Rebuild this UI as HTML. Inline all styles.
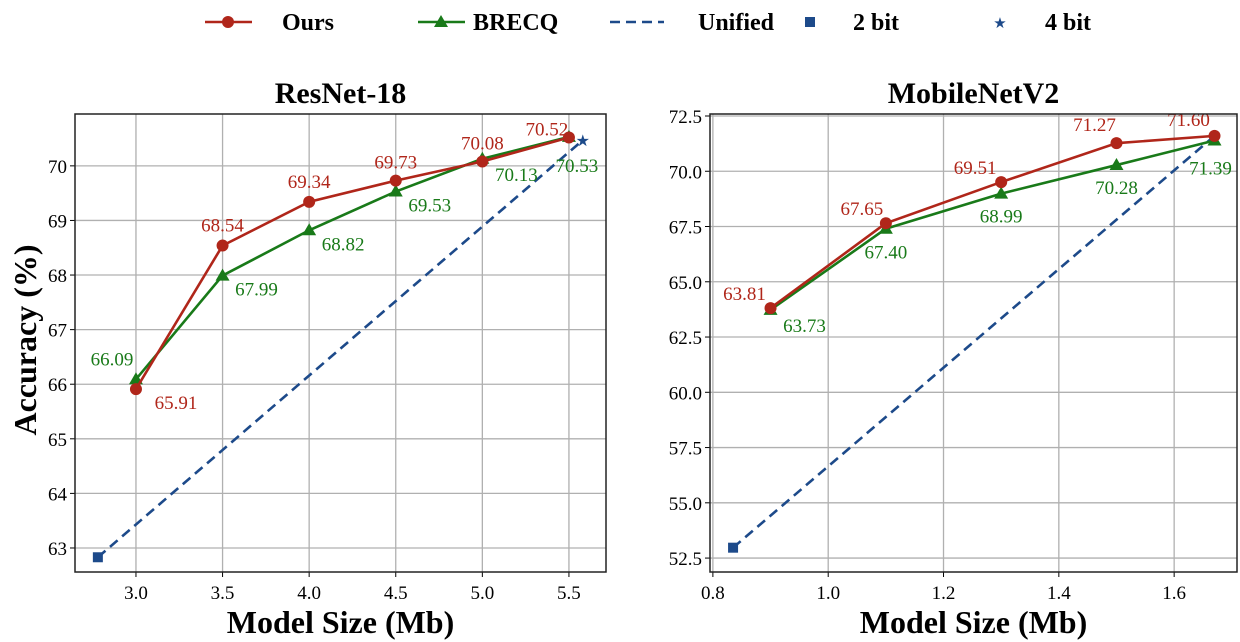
<!DOCTYPE html>
<html><head><meta charset="utf-8"><style>
body{margin:0;background:#fff;}
svg{display:block;font-family:"Liberation Serif",serif;}
</style></head><body>
<svg id="chart" width="1240" height="642" viewBox="0 0 1240 642"></svg>
<script>
const resnetSizes=[3.0,3.5,4.0,4.5,5.0,5.5];
const resnetOurs=[65.91,68.54,69.34,69.73,70.08,70.52];
const resnetBrecq=[66.09,67.99,68.82,69.53,70.13,70.53];
const resnetUnifiedX=[2.78,5.58];
const resnetUnifiedY=[62.83,70.47];
const resnetXTicks=[3.0,3.5,4.0,4.5,5.0,5.5];
const resnetYTicks=[63,64,65,66,67,68,69,70];
const mobileSizes=[0.9,1.1,1.3,1.5,1.67];
const mobileOurs=[63.81,67.65,69.51,71.27,71.60];
const mobileBrecq=[63.73,67.40,68.99,70.28,71.39];
const mobileUnifiedX=[0.835,1.67];
const mobileUnifiedY=[52.97,71.6];
const mobileXTicks=[0.8,1.0,1.2,1.4,1.6];
const mobileYTicks=[52.5,55.0,57.5,60.0,62.5,65.0,67.5,70.0,72.5];

const RED="#b0261a",GREEN="#197a19",BLUE="#1d4a8a";
const svg=document.getElementById('chart');
const NS="http://www.w3.org/2000/svg";
function mk(tag,attrs,parent,txt){const e=document.createElementNS(NS,tag);for(const k in attrs)e.setAttribute(k,attrs[k]);if(txt!==undefined)e.textContent=txt;(parent||svg).appendChild(e);return e;}

function panel(cfg){
  const g=mk('g',{});
  
  
  const {x0,x1,y0,y1,xmin,xmax,ymin,ymax}=cfg;
  const sx=v=>x0+(v-xmin)/(xmax-xmin)*(x1-x0);
  const sy=v=>y1-(v-ymin)/(ymax-ymin)*(y1-y0);
  cfg.xTicks.forEach(t=>{
    const l=mk('line',{x1:sx(t),x2:sx(t),y1:y0,y2:y1,stroke:'#b0b0b0','stroke-width':1.3},g);
    
    mk('line',{x1:sx(t),x2:sx(t),y1:y1,y2:y1+5,stroke:'#000','stroke-width':1},g);
    const tx=mk('text',{x:sx(t),y:y1+27,'text-anchor':'middle','font-size':19},g,t.toFixed(1));
    
  });
  cfg.yTicks.forEach(t=>{
    const l=mk('line',{x1:x0,x2:x1,y1:sy(t),y2:sy(t),stroke:'#b0b0b0','stroke-width':1.3},g);
    
    mk('line',{x1:x0-5,x2:x0,y1:sy(t),y2:sy(t),stroke:'#000','stroke-width':1},g);
    const tx=mk('text',{x:x0-8,y:sy(t)+7,'text-anchor':'end','font-size':19},g,cfg.yDec?t.toFixed(1):String(t));
    
  });
  const u=mk('line',{x1:sx(cfg.ux[0]),y1:sy(cfg.uy[0]),x2:sx(cfg.ux[1]),y2:sy(cfg.uy[1]),stroke:BLUE,'stroke-width':2.6,'stroke-dasharray':'10,6'},g);
  
  const sq=mk('rect',{x:sx(cfg.ux[0])-5,y:sy(cfg.uy[0])-5,width:10,height:10,fill:BLUE},g);
  
  const st=mk('text',{x:sx(cfg.ux[1]),y:sy(cfg.uy[1])+6,'text-anchor':'middle','font-size':16,fill:BLUE,'font-family':'DejaVu Sans'},g,'★');
  
  const bp=mk('polyline',{points:cfg.xs.map((x,i)=>sx(x)+','+sy(cfg.brecq[i])).join(' '),fill:'none',stroke:GREEN,'stroke-width':2.6},g);
  
  cfg.xs.forEach((x,i)=>{
    const X=sx(x),Y=sy(cfg.brecq[i]);
    const m=mk('polygon',{points:`${X},${Y-7} ${X-7},${Y+5} ${X+7},${Y+5}`,fill:GREEN},g);
    
  });
  const op=mk('polyline',{points:cfg.xs.map((x,i)=>sx(x)+','+sy(cfg.ours[i])).join(' '),fill:'none',stroke:RED,'stroke-width':2.6},g);
  
  cfg.xs.forEach((x,i)=>{
    const m=mk('circle',{cx:sx(x),cy:sy(cfg.ours[i]),r:6,fill:RED},g);
    
  });
  cfg.xs.forEach((x,i)=>{
    const a=cfg.oOff[i],b=cfg.bOff[i];
    const t1=mk('text',{x:sx(x)+a[0],y:sy(cfg.ours[i])+a[1],'text-anchor':'middle','font-size':19,fill:RED},g,cfg.ours[i].toFixed(2));
    
    const t2=mk('text',{x:sx(x)+b[0],y:sy(cfg.brecq[i])+b[1],'text-anchor':'middle','font-size':19,fill:GREEN},g,cfg.brecq[i].toFixed(2));
    
  });
  const f=mk('rect',{x:x0,y:y0,width:x1-x0,height:y1-y0,fill:'none',stroke:'#222','stroke-width':1.5},g);
  
  const ti=mk('text',{x:(x0+x1)/2,y:y0-11,'text-anchor':'middle','font-size':30,'font-weight':'bold'},g,cfg.title);
  
  const xl=mk('text',{x:(x0+x1)/2,y:633,'text-anchor':'middle','font-size':32,'font-weight':'bold'},g,'Model Size (Mb)');
  
}

panel({name:'resnet18-panel',title:'ResNet-18',x0:75,x1:606,y0:114,y1:572,xmin:2.648,xmax:5.714,ymin:62.56,ymax:70.95,
  xs:resnetSizes,ours:resnetOurs,brecq:resnetBrecq,ux:resnetUnifiedX,uy:resnetUnifiedY,xTicks:resnetXTicks,yTicks:resnetYTicks,yDec:false,
  oOff:[[40,20],[0,-14],[0,-14],[0,-12],[0,-12],[-22,-2]],bOff:[[-24,-14],[34,20],[34,20],[34,20],[34,22],[8,35]]});
panel({name:'mobilenetv2-panel',title:'MobileNetV2',x0:710,x1:1237,y0:114,y1:572,xmin:0.795,xmax:1.709,ymin:51.87,ymax:72.59,
  xs:mobileSizes,ours:mobileOurs,brecq:mobileBrecq,ux:mobileUnifiedX,uy:mobileUnifiedY,xTicks:mobileXTicks,yTicks:mobileYTicks,yDec:true,
  oOff:[[-26,-8],[-24,-8],[-26,-8],[-22,-12],[-26,-10]],bOff:[[34,22],[0,30],[0,29],[0,29],[-4,34]]});

const yl=mk('text',{x:0,y:0,'text-anchor':'middle','font-size':32,'font-weight':'bold',transform:'translate(36,340) rotate(-90)'},svg,'Accuracy (%)');


const lg=mk('g',{});

const e1=mk('g',{},lg);
mk('line',{x1:205,x2:252,y1:22,y2:22,stroke:RED,'stroke-width':2.6},e1);mk('circle',{cx:228,cy:22,r:6,fill:RED},e1);
mk('text',{x:282,y:30,'font-size':24,'font-weight':'bold'},e1,'Ours');
const e2=mk('g',{},lg);
mk('line',{x1:418,x2:465,y1:22,y2:22,stroke:GREEN,'stroke-width':2.6},e2);mk('polygon',{points:'441,15 434,27 448,27',fill:GREEN},e2);
mk('text',{x:473,y:30,'font-size':24,'font-weight':'bold'},e2,'BRECQ');
const e3=mk('g',{},lg);
mk('line',{x1:610,x2:664,y1:22,y2:22,stroke:BLUE,'stroke-width':2.6,'stroke-dasharray':'10,6'},e3);
mk('text',{x:698,y:30,'font-size':24,'font-weight':'bold'},e3,'Unified');
const e4=mk('g',{},lg);
mk('rect',{x:805,y:17,width:10,height:10,fill:BLUE},e4);
mk('text',{x:853,y:30,'font-size':24,'font-weight':'bold'},e4,'2 bit');
const e5=mk('g',{},lg);
mk('text',{x:1000,y:28,'text-anchor':'middle','font-size':15,fill:BLUE,'font-family':'DejaVu Sans'},e5,'★');
mk('text',{x:1045,y:30,'font-size':24,'font-weight':'bold'},e5,'4 bit');
</script>
</body></html>
